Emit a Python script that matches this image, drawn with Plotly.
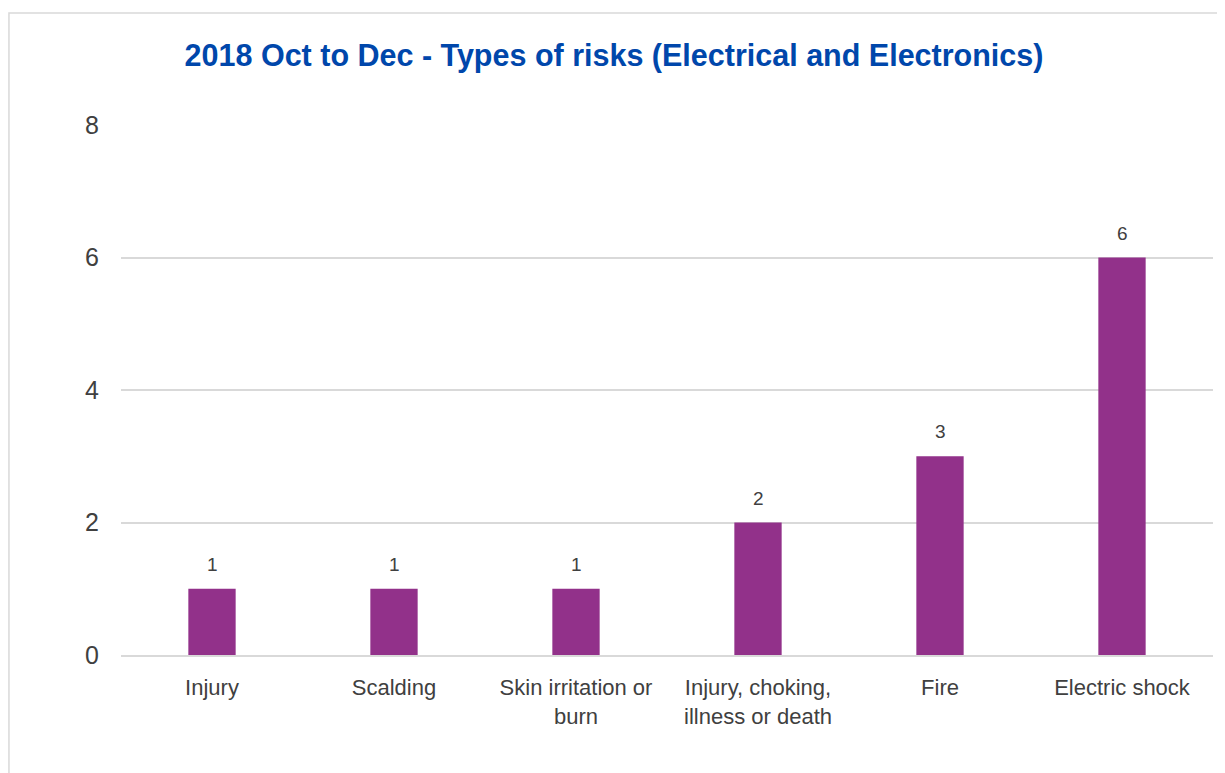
import plotly.graph_objects as go

# chart data
risk_types = ["Injury", "Scalding", "Skin irritation or<br>burn",
              "Injury, choking,<br>illness or death", "Fire", "Electric shock"]
risk_counts = [1, 1, 1, 2, 3, 6]
y_ticks = [0, 2, 4, 6, 8]

FONT = "Liberation Sans Narrow, Arial Narrow, Liberation Sans, Arial, sans-serif"
BAR_COLOR = "#92318A"
GRID = "#D9D9D9"

fig = go.Figure()
fig.add_trace(go.Bar(
    x=risk_types,
    y=risk_counts,
    marker=dict(color=BAR_COLOR, line=dict(width=0)),
    width=0.26,
    showlegend=False,
))

# value labels above the bars
for cat, val in zip(risk_types, risk_counts):
    fig.add_annotation(
        x=cat, y=val, text=str(val), showarrow=False,
        yanchor="bottom", yshift=12,
        font=dict(family=FONT, size=19, color="#404040"),
    )

# light frame around the chart area (as in the source image)
fig.add_shape(type="rect", xref="paper", yref="paper",
              x0=-0.1026, x1=1.3, y0=-0.4, y1=1.2113,
              line=dict(color=GRID, width=1.5), layer="below")

fig.update_layout(
    width=1225, height=773,
    margin=dict(l=113, r=20, t=117, b=126),
    paper_bgcolor="white",
    plot_bgcolor="white",
    title=dict(
        text="<b>2018 Oct to Dec - Types of risks (Electrical and Electronics)</b>",
        x=606 / 1225, xanchor="center", xref="container",
        y=1 - 47 / 773, yref="container", yanchor="middle",
        font=dict(family=FONT, size=30.5, color="#0047AB"),
    ),
    font=dict(family=FONT, size=20, color="#404040"),
    bargap=0.74,
)

fig.update_xaxes(
    showline=True, linecolor=GRID, linewidth=1.5,
    showgrid=False, ticks="", tickfont=dict(size=22),
    ticklabelstandoff=12,
)
fig.update_yaxes(
    range=[0, 8], tickvals=y_ticks,
    showgrid=True, gridcolor=GRID, gridwidth=1.5,
    zeroline=False, showline=False, ticks="",
    tickfont=dict(size=25), ticklabelstandoff=21,
)

fig.write_html("out.html")
